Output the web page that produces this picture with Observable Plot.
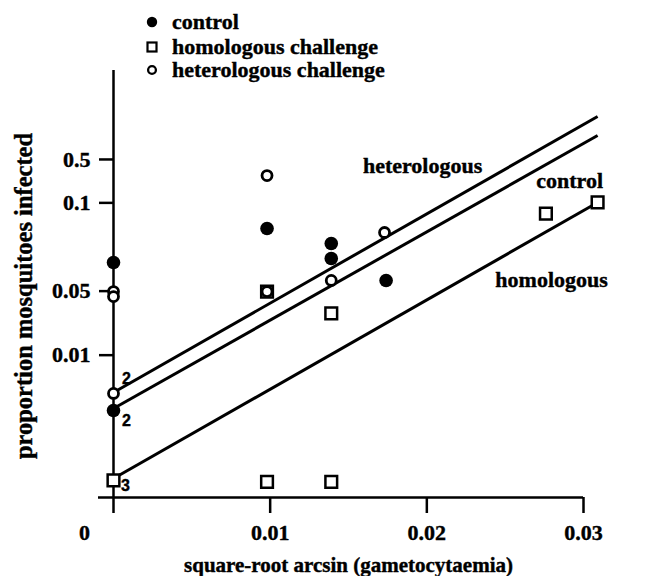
<!DOCTYPE html>
<html><head><meta charset="utf-8">
<script src="https://cdn.jsdelivr.net/npm/d3@7"></script>
<script src="https://cdn.jsdelivr.net/npm/@observablehq/plot@0.6"></script>
<style>
body{margin:0;background:#fff;}
#wrap{position:relative;width:647px;height:576px;font-family:'Liberation Serif','Tinos','Nimbus Roman','Times New Roman','DejaVu Serif',serif;font-weight:bold;color:#000;}
#legend{position:absolute;left:0;top:0;width:647px;height:90px;pointer-events:none;}
.item{position:absolute;left:143px;height:24px;display:flex;align-items:center;font-size:22px;white-space:nowrap;-webkit-text-stroke:0.4px black;}
.item svg{width:18px;height:18px;margin-right:11px;overflow:visible;}
#chart svg text{stroke:black;stroke-width:0.4px;}
</style></head><body>
<div id="wrap"><div id="chart"></div><div id="legend"></div></div>
<script>
// ---- data ----
// x: square-root arcsin (gametocytaemia); y: transformed proportion infected (axis units)
const controlX = [0, 0, 0.0098, 0.0139, 0.0139, 0.0174];
const controlY = [1.651, 0.611, 1.890, 1.785, 1.679, 1.525];
const heteroX  = [0, 0, 0, 0.0098, 0.0098, 0.0139, 0.0173];
const heteroY  = [1.447, 1.412, 0.731, 2.262, 1.447, 1.525, 1.862];
const homoX    = [0, 0.0098, 0.0139, 0.0098, 0.0139, 0.0276, 0.0309];
const homoY    = [0.12, 1.447, 1.293, 0.11, 0.11, 1.995, 2.073];

const lineNames = ["heterologous", "control", "homologous"];
const lineX0 = [0, 0, 0];
const lineY0 = [0.738, 0.625, 0.133];
const lineX1 = [0.0309, 0.0309, 0.0309];
const lineY1 = [2.677, 2.543, 2.073];

// replicate counts at x = 0
const countHetero = [{x: 0, y: 0.731, n: "2"}];
const countControl = [{x: 0, y: 0.611, n: "2"}];
const countHomo = [{x: 0, y: 0.12, n: "3"}];

const xTickValues = [0, 0.01, 0.02, 0.03];
const xTickLabels = ["0", "0.01", "0.02", "0.03"];
const yTickValues = [1.0, 1.45, 2.07, 2.375];
const yTickLabels = ["0.01", "0.05", "0.1", "0.5"];

const legendNames = ["control", "homologous challenge", "heterologous challenge"];

// ---- tables ----
const control = controlX.map((x, i) => ({x, y: controlY[i]}));
const hetero = heteroX.map((x, i) => ({x, y: heteroY[i]}));
const homo = homoX.map((x, i) => ({x, y: homoY[i]}));
const lines = lineNames.map((name, i) => ({name, x1: lineX0[i], y1: lineY0[i], x2: lineX1[i], y2: lineY1[i]}));

const serif = "'Liberation Serif','Tinos','Nimbus Roman','Times New Roman','DejaVu Serif',serif";
const sans = "'Liberation Sans', Arial, sans-serif";
const fs = 22;

const chart = Plot.plot({
  width: 647,
  height: 576,
  marginLeft: 113,
  marginRight: 64,
  marginTop: 70,
  marginBottom: 79,
  style: {fontFamily: serif, fontWeight: "bold", color: "black", background: "white"},
  x: {domain: [0, 0.03]},
  y: {domain: [0, 3]},
  marks: [
    Plot.ruleY([0], {x1: 0, x2: 0.03, insetLeft: -15, strokeWidth: 2.5}),
    Plot.ruleX([0], {y1: 0, y2: 3, strokeWidth: 2.5}),
    Plot.axisX(xTickValues, {tickSize: 16, strokeWidth: 2.5, tickFormat: () => "", label: null}),
    Plot.axisY(yTickValues, {tickSize: 14, strokeWidth: 2.5, tickFormat: () => "", label: null}),
    Plot.text(xTickValues.slice(1), {x: d => d, y: 0, dy: 35, text: d => xTickLabels[xTickValues.indexOf(d)], fontFamily: serif, fontSize: fs, fontWeight: "bold"}),
    Plot.text(xTickValues.slice(0, 1), {x: d => d, y: 0, dx: -29, dy: 35, text: d => xTickLabels[xTickValues.indexOf(d)], fontFamily: serif, fontSize: fs, fontWeight: "bold"}),
    Plot.text(yTickValues, {x: 0, y: d => d, dx: -23, textAnchor: "end", text: d => yTickLabels[yTickValues.indexOf(d)], fontFamily: serif, fontSize: fs, fontWeight: "bold"}),
    Plot.text(["square-root arcsin (gametocytaemia)"], {frameAnchor: "bottom", lineAnchor: "middle", textAnchor: "middle", dy: 68, text: d => d, fontFamily: serif, fontSize: 21, fontWeight: "bold"}),
    Plot.text(["proportion mosquitoes infected"], {frameAnchor: "left", textAnchor: "middle", lineAnchor: "middle", rotate: -90, dx: -89, dy: 12, text: d => d, fontFamily: serif, fontSize: 24.5, fontWeight: "bold"}),
    Plot.link(lines, {x1: "x1", y1: "y1", x2: "x2", y2: "y2", stroke: "black", strokeWidth: 3}),
    Plot.text(lines.slice(0, 1), {x: "x2", y: "y2", text: "name", dx: -175, dy: 49, fontFamily: serif, fontSize: fs, fontWeight: "bold"}),
    Plot.text(lines.slice(1, 2), {x: "x2", y: "y2", text: "name", dx: -28, dy: 45, fontFamily: serif, fontSize: fs, fontWeight: "bold"}),
    Plot.text(lines.slice(2, 3), {x: "x2", y: "y2", text: "name", dx: -46, dy: 78, fontFamily: serif, fontSize: fs, fontWeight: "bold"}),
    Plot.dot(control, {x: "x", y: "y", r: 6.8, fill: "black", stroke: "none"}),
    Plot.dot(homo, {x: "x", y: "y", symbol: "square", r: 6.6, fill: "white", stroke: "black", strokeWidth: 2.5}),
    Plot.dot(hetero, {x: "x", y: "y", r: 5, fill: "white", stroke: "black", strokeWidth: 2.8}),
    Plot.text(countHetero, {x: "x", y: "y", text: "n", dx: 13, dy: -15, fontFamily: sans, fontSize: 16, fontWeight: "bold"}),
    Plot.text(countControl, {x: "x", y: "y", text: "n", dx: 13, dy: 10, fontFamily: sans, fontSize: 16, fontWeight: "bold"}),
    Plot.text(countHomo, {x: "x", y: "y", text: "n", dx: 12, dy: 5, fontFamily: sans, fontSize: 16, fontWeight: "bold"})
  ]
});
document.getElementById("chart").appendChild(chart);

const symbols = [
  '<circle cx="9" cy="9" r="5.2" fill="black"/>',
  '<rect x="4.5" y="4.5" width="9" height="9" fill="white" stroke="black" stroke-width="2.2"/>',
  '<circle cx="9" cy="9" r="3.9" fill="white" stroke="black" stroke-width="2.3"/>'
];
const rowTops = [10, 35, 58];
const legend = document.getElementById("legend");
legendNames.forEach((name, i) => {
  const div = document.createElement("div");
  div.className = "item";
  div.style.top = rowTops[i] + "px";
  div.innerHTML = '<svg viewBox="0 0 18 18">' + symbols[i] + '</svg><span>' + name + '</span>';
  legend.appendChild(div);
});
</script>
</body></html>
